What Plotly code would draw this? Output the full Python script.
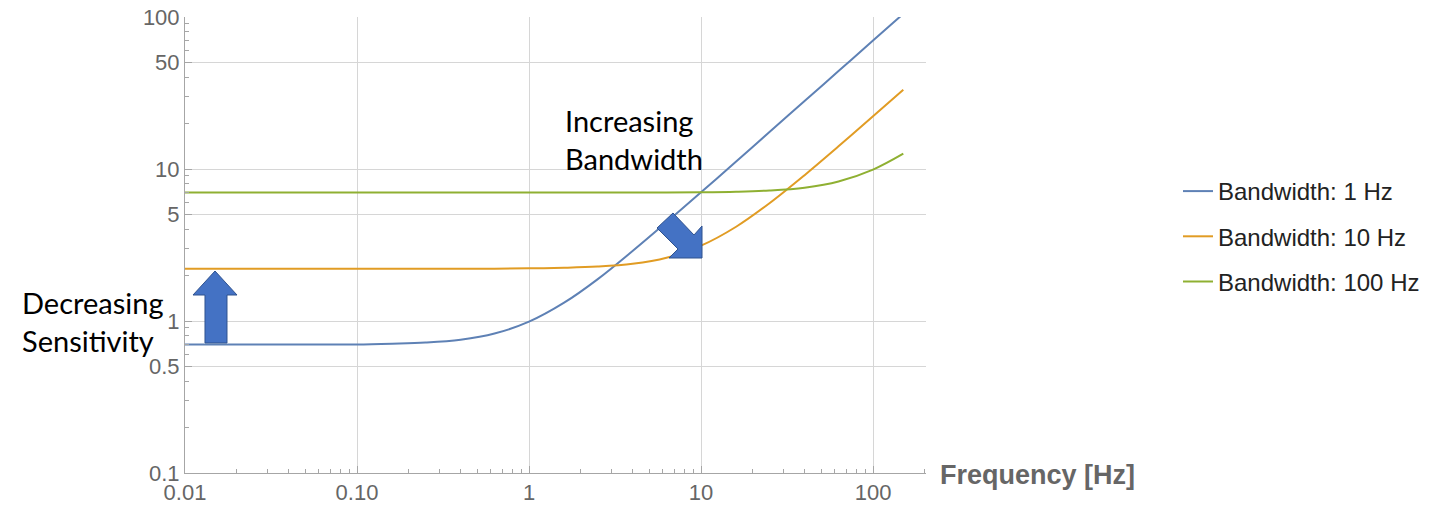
import plotly.graph_objects as go

# ---- data ----
freq = [0.01, 0.016, 0.025, 0.04, 0.063, 0.1, 0.16, 0.25, 0.4, 0.63, 1, 1.6, 2.5, 4, 6.3,
        10, 16, 25, 40, 63, 100, 150]
bw1 = [0.70, 0.70, 0.70, 0.70, 0.70, 0.70, 0.709, 0.722, 0.754, 0.827, 0.99, 1.32, 1.88, 2.89,
       4.47, 7.03, 11.2, 17.5, 28.0, 44.1, 70.0, 105.0]
bw10 = [2.21, 2.21, 2.21, 2.21, 2.21, 2.21, 2.21, 2.21, 2.21, 2.21, 2.22, 2.24, 2.28, 2.38,
        2.61, 3.13, 4.17, 5.95, 9.11, 14.1, 22.2, 33.2]
bw100 = [7.0, 7.0, 7.0, 7.0, 7.0, 7.0, 7.0, 7.0, 7.0, 7.0, 7.0, 7.0, 7.0, 7.0,
         7.01, 7.03, 7.09, 7.22, 7.54, 8.27, 9.90, 12.6]
series_names = ["Bandwidth: 1 Hz", "Bandwidth: 10 Hz", "Bandwidth: 100 Hz"]
series_colors = ["#5E81B5", "#E19C24", "#8FB032"]

x_tickvals = [0.01, 0.1, 1, 10, 100]
x_ticktext = ["0.01", "0.10", "1", "10", "100"]
y_tickvals = [0.1, 0.5, 1, 5, 10, 50, 100]
y_ticktext = ["0.1", "0.5", "1", "5", "10", "50", "100"]

x_minor = [m * d for d in (0.01, 0.1, 1, 10, 100) for m in range(2, 10) if m * d <= 200]
y_minor = [m * d for d in (0.1, 1, 10) for m in (2, 3, 4, 6, 7, 8, 9)]

# ---- layout geometry (page pixels) ----
W, H = 1450, 505
PL, PR, PT, PB = 185, 926, 17, 473          # plot area
L, T, R, B = PL, PT, W - PR, H - PB
pw, ph = PR - PL, PB - PT


def px(x, y):
    return (x - PL) / pw, (PB - y) / ph


def path(points):
    pts = [px(x, y) for x, y in points]
    return "M " + " L ".join(f"{a:.5f},{b:.5f}" for a, b in pts) + " Z"


fig = go.Figure()
for i, (vals, name, col) in enumerate(zip([bw1, bw10, bw100], series_names, series_colors)):
    fig.add_trace(go.Scatter(
        x=freq, y=vals, mode="lines", name=name, legendgroup=f"g{i}",
        line=dict(color=col, width=2, shape="spline", smoothing=1.0),
    ))

axis_col = "#a6a6a6"
grid_col = "#d6d6d6"
tick_font = dict(family="Liberation Sans, Arial, sans-serif", size=22, color="#666666")

common = dict(
    type="log", tickmode="array",
    showgrid=True, gridcolor=grid_col, gridwidth=1,
    showline=True, linecolor=axis_col, linewidth=1,
    ticks="inside", ticklen=7, tickcolor=axis_col, tickwidth=1,
    tickfont=tick_font, zeroline=False,
    ticklabeloverflow="allow",
)
fig.update_xaxes(
    range=[-2, 2.308], tickvals=x_tickvals, ticktext=x_ticktext,
    minor=dict(tickmode="array", tickvals=x_minor, ticks="inside", ticklen=4,
               tickcolor=axis_col, showgrid=False),
    **common,
)
fig.update_yaxes(
    range=[-1, 2], tickvals=y_tickvals, ticktext=y_ticktext,
    minor=dict(tickmode="array", tickvals=y_minor, ticks="inside", ticklen=4,
               tickcolor=axis_col, showgrid=False),
    **common,
)

arrow_fill = "#4472C4"
arrow_line = "#2F528F"
up_arrow = [(215, 271), (237, 295), (227, 295), (227, 343), (205, 343), (205, 295), (193, 295)]
diag_arrow = [(702, 258), (669, 258), (678, 249), (657, 228), (673, 213), (694, 235), (702, 226)]
for shp in (up_arrow, diag_arrow):
    fig.add_shape(type="path", xref="paper", yref="paper", path=path(shp),
                  fillcolor=arrow_fill, line=dict(color=arrow_line, width=1), layer="above")

note_font = dict(family="Lato, Open Sans, sans-serif", size=29, color="#000000")
ax, ay = px(563, 101)
fig.add_annotation(xref="paper", yref="paper", x=ax, y=ay, xanchor="left", yanchor="top",
                   text="Increasing<br>Bandwidth", showarrow=False, align="left", font=note_font)
ax, ay = px(20, 283)
fig.add_annotation(xref="paper", yref="paper", x=ax, y=ay, xanchor="left", yanchor="top",
                   text="Decreasing<br>Sensitivity", showarrow=False, align="left", font=note_font)
ax, ay = px(938, 475)
fig.add_annotation(xref="paper", yref="paper", x=ax, y=ay, xanchor="left", yanchor="middle",
                   text="<b>Frequency [Hz]</b>", showarrow=False,
                   font=dict(family="Liberation Sans, Arial, sans-serif", size=27, color="#666666"))

lx, ly = px(1178, 169)
fig.update_layout(
    width=W, height=H,
    margin=dict(l=L, r=R, t=T, b=B, autoexpand=False),
    paper_bgcolor="white", plot_bgcolor="white",
    showlegend=True,
    legend=dict(x=lx, y=ly, xanchor="left", yanchor="top", traceorder="grouped",
                tracegroupgap=11, bgcolor="rgba(0,0,0,0)",
                font=dict(family="Liberation Sans, Arial, sans-serif", size=24, color="#222222")),
)

fig.write_html(
    "out.html",
    config={"displayModeBar": False},
    post_script="document.body.style.margin='0';document.body.style.overflow='hidden';",
)
